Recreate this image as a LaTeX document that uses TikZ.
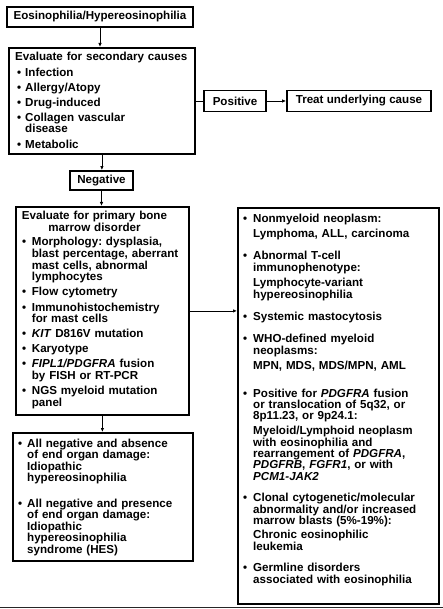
\documentclass[tikz,border=0pt]{standalone}
\usepackage{fontspec}
\setmainfont{Liberation Sans}
\usetikzlibrary{arrows.meta}
\newlength\bw
\newlength\bo
\newcommand\bt{\hspace*{\bo}\makebox[\bw][l]{\textbullet}}
\newcommand\ct{\hspace*{\dimexpr\bo+\bw\relax}}
\frenchspacing
\begin{document}
\begin{tikzpicture}[x=1pt,y=-1pt,
  box/.style={draw, line width=1.8pt, inner sep=0pt, anchor=north west},
  sbox/.style={draw, line width=1.8pt, inner sep=0pt,
    font=\fontsize{11.6}{11.6}\selectfont\bfseries},
  txt/.style={anchor=base west, inner sep=0pt, text width=220pt, align=left},
  arr/.style={-{Latex[length=4pt,width=3.5pt]}, line width=0.8pt},
  conn/.style={line width=0.8pt},
  f116/.style={font=\fontsize{11.6}{11.6}\selectfont\bfseries\frenchspacing},
  f113/.style={font=\fontsize{11.6}{11.4}\selectfont\bfseries\frenchspacing}]
\useasboundingbox (0,0) rectangle (443,609);
% boxes
\node[sbox, minimum width=186, minimum height=20] (b1) at (100,17) {Eosinophilia/Hypereosinophilia};
\node[box, minimum width=186, minimum height=106] (b2) at (8,47) {};
\node[sbox, minimum width=62, minimum height=21] (pos) at (235,101) {Positive};
\node[sbox, minimum width=144, minimum height=21] (treat) at (359,101) {Treat underlying cause};
\node[sbox, minimum width=63, minimum height=19] (neg) at (101.5,180.5) {Negative};
\node[box, minimum width=173, minimum height=208] (b3) at (15,206) {};
\node[box, minimum width=180, minimum height=128] (b4) at (12,432) {};
\node[box, minimum width=201, minimum height=396] (R) at (237,207) {};
% texts
\node[txt, f116] (t2) at (15,61) {\setlength\bo{2pt}\setlength\bw{8pt}%
Evaluate for secondary causes\\[3.5pt]
\bt Infection\\[3.5pt]
\bt Allergy/Atopy\\[3.5pt]
\bt Drug-induced\\[3.5pt]
\bt Collagen vascular\\
\ct disease\\[3.5pt]
\bt Metabolic};
\node[anchor=base, inner sep=0pt, text width=170pt, align=center, f116] (h3) at (94.5,220)
{Evaluate for primary bone\\marrow disorder};
\node[txt, f116] (t3) at (22,246) {\setlength\bo{0pt}\setlength\bw{9.7pt}%
\bt Morphology: dysplasia,\\
\ct blast percentage, aberrant\\
\ct mast cells, abnormal\\
\ct lymphocytes\\[3.5pt]
\bt Flow cytometry\\[3.5pt]
\bt Immunohistochemistry\\
\ct for mast cells\\[3.5pt]
\bt \textit{KIT} D816V mutation\\[3.5pt]
\bt Karyotype\\[3.5pt]
\bt \textit{FIPL1/PDGFRA} fusion\\
\ct by FISH or RT-PCR\\[3.5pt]
\bt NGS myeloid mutation\\
\ct panel};
\node[txt, f116] (t4) at (18,447) {\setlength\bo{0pt}\setlength\bw{9pt}%
\bt All negative and absence\\
\ct of end organ damage:\\
\ct Idiopathic\\
\ct hypereosinophilia\\[13.6pt]
\bt All negative and presence\\
\ct of end organ damage:\\
\ct Idiopathic\\
\ct hypereosinophilia\\
\ct syndrome (HES)};
\node[txt, f113] (tR) at (243,223) {\setlength\bo{0pt}\setlength\bw{10pt}%
\bt Nonmyeloid neoplasm:\\[3pt]
\ct Lymphoma, ALL, carcinoma\\[11pt]
\bt Abnormal T-cell\\
\ct immunophenotype:\\[4pt]
\ct Lymphocyte-variant\\
\ct hypereosinophilia\\[11pt]
\bt Systemic mastocytosis\\[11pt]
\bt WHO-defined myeloid\\
\ct neoplasms:\\[4pt]
\ct MPN, MDS, MDS/MPN, AML\\[16pt]
\bt Positive for \textit{PDGFRA} fusion\\
\ct or translocation of 5q32, or\\
\ct 8p11.23, or 9p24.1:\\[3.5pt]
\ct Myeloid/Lymphoid neoplasm\\
\ct with eosinophilia and\\
\ct rearrangement of \textit{PDGFRA},\\
\ct \textit{PDGFRB}, \textit{FGFR1}, or with\\
\ct \textit{PCM1-JAK2}\\[10pt]
\bt Clonal cytogenetic/molecular\\
\ct abnormality and/or increased\\
\ct marrow blasts (5\%-19\%):\\[3pt]
\ct Chronic eosinophilic\\
\ct leukemia\\[10pt]
\bt Germline disorders\\
\ct associated with eosinophilia};
% connectors
\draw[arr] (b1.south) -- (b1.south |- b2.north);
\draw[conn] (pos.west -| b2.east) -- (pos.west);
\draw[arr] (pos.east) -- (treat.west);
\draw[arr] (b2.south) -- (b2.south |- neg.north);
\draw[arr] (neg.south) -- (neg.south |- b3.north);
\draw[arr] (b3.south) -- (b3.south |- b4.north);
\draw[arr] (b3.east) -- (b3.east -| R.west);
% bottom rule of the figure
\draw[line width=1.2pt, black!85] (0,607.6) -- (443,607.6);
\end{tikzpicture}
\end{document}
